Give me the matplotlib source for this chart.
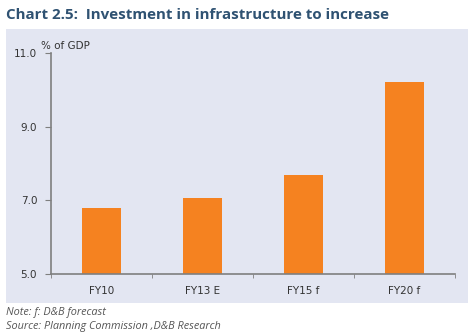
import matplotlib.pyplot as plt
from matplotlib.patches import Rectangle

categories = ['FY10', 'FY13 E', 'FY15 f', 'FY20 f']
values = [6.8, 7.05, 7.7, 10.2]
yticks = [5.0, 7.0, 9.0, 11.0]

W, H = 474, 336
fig = plt.figure(figsize=(W / 100, H / 100), dpi=100)
fig.patch.set_facecolor('white')

# shaded panel behind the chart
fig.patches.append(Rectangle((6 / W, 1 - 303 / H), 462 / W, 274 / H,
                             transform=fig.transFigure, facecolor='#e3e6f2',
                             edgecolor='none', zorder=-5))

ax = fig.add_axes([51 / W, 1 - 274 / H, 404 / W, 221 / H])
ax.set_facecolor('none')
ax.set_zorder(2)

x = range(len(categories))
ax.bar(x, values, width=0.39, color='#f58220', bottom=0)
ax.set_xlim(-0.5, len(categories) - 0.5)
ax.set_ylim(5.0, 11.0)
ax.set_yticks(yticks)
ax.set_yticklabels(['%.1f' % t for t in yticks])
ax.set_xticks(x)
ax.set_xticklabels(categories)
ax.set_xticks([i - 0.5 for i in range(len(categories) + 1)], minor=True)

for s in ['top', 'right']:
    ax.spines[s].set_visible(False)
for s in ['left', 'bottom']:
    ax.spines[s].set_color('#7f7f7f')
    ax.spines[s].set_linewidth(1.2)

ax.tick_params(axis='y', length=4, color='#7f7f7f', labelsize=7.5,
               labelcolor='#333333', pad=6)
ax.tick_params(axis='x', which='major', length=0, labelsize=7.5,
               labelcolor='#333333', pad=9)
ax.tick_params(axis='x', which='minor', length=3, color='#7f7f7f', direction='out')

fig.text(41 / W, 1 - 46 / H, '% of GDP', fontsize=7.5, color='#333333',
         va='center', ha='left')

fig.text(6 / W, 1 - 15 / H, 'Chart 2.5:  Investment in infrastructure to increase',
         fontsize=10.9, fontweight='bold', color='#2f5272', va='center', ha='left',
         family='Open Sans')

fig.text(6 / W, 1 - 312 / H, 'Note: f: D&B forecast', fontsize=7.8, style='italic',
         color='#555555', va='center', ha='left', family='Open Sans')
fig.text(6 / W, 1 - 327 / H, 'Source: Planning Commission ,D&B Research', fontsize=7.8,
         style='italic', color='#555555', va='center', ha='left', family='Open Sans')

fig.savefig('out.png', dpi=100)
